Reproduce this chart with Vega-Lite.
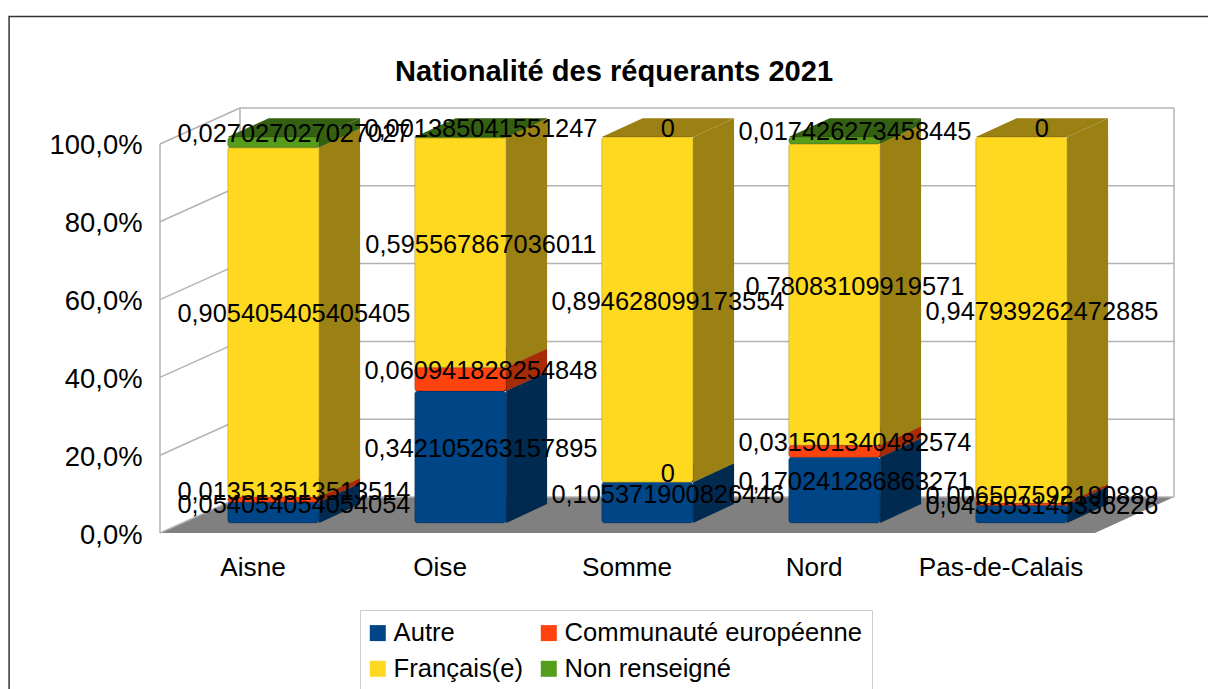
{
"$schema":"https://vega.github.io/schema/vega-lite/v6.json",
"width":1014,"height":425,
"autosize":"none",
"padding":{"left":160,"top":108,"right":34,"bottom":156},
"background":"white",
"config":{"view":{"stroke":null},"font":"Liberation Sans","axis":{"labelFont":"Liberation Sans"},"text":{"font":"Liberation Sans"}},
"title":{"text":"Nationalité des réquerants 2021","font":"Liberation Sans","fontSize":29.1,"fontWeight":"bold","color":"black","anchor":"middle","frame":"group","dx":-53,"offset":-71},
"layer":[
{"data":{"values":[{"frame":"chart"}]},
 "mark":{"type":"rect","fill":null,"stroke":"#333333","strokeWidth":1.5},
 "encoding":{
  "x":{"datum":-0.807,"type":"quantitative","title":null,"scale":{"domain":[0,5.4225],"nice":false,"zero":false},
   "axis":{"values":[0.495,1.495,2.495,3.495,4.495],"labelExpr":"['Aisne','Oise','Somme','Nord','Pas-de-Calais'][floor(datum.value)]","domain":false,"ticks":false,"grid":false,"labelFontSize":26.2,"labelColor":"black","labelPadding":34,"labelBaseline":"middle"}},
  "x2":{"datum":5.64},
  "y":{"datum":1.3278,"type":"quantitative","title":null,"scale":{"domain":[0,1.09254],"nice":false,"zero":false},
   "axis":{"values":[0,0.2,0.4,0.6,0.8,1],"labelExpr":"replace(format(datum.value,'.1%'),'.',',')","domain":false,"ticks":false,"grid":false,"labelFontSize":27.4,"labelColor":"black","labelPadding":18,"labelOffset":2}},
  "y2":{"datum":-0.43}
 }},
{"data":{"values":[{"t":0},{"t":1}]},
 "mark":{"type":"area","orient":"horizontal","color":"#808080"},
 "transform":[{"calculate":"datum.t*0.4225","as":"fx"},{"calculate":"5+datum.t*0.4225","as":"fx2"},{"calculate":"datum.t*0.09254","as":"fy"}],
 "encoding":{"y":{"field":"fy","type":"quantitative","title":null},"x":{"field":"fx","type":"quantitative","title":null},"x2":{"field":"fx2"}}},
{"data":{"values":[{"tick":0},{"tick":0.2},{"tick":0.4},{"tick":0.6},{"tick":0.8},{"tick":1}]},
 "transform":[{"calculate":"datum.tick+0.09254","as":"by"}],
 "layer":[
  {"mark":{"type":"rule","color":"#b3b3b3","strokeWidth":1.5},
   "encoding":{"x":{"datum":0,"type":"quantitative","title":null},"x2":{"datum":0.4278},"y":{"field":"tick","type":"quantitative","title":null},"y2":{"field":"by"}}},
  {"mark":{"type":"rule","color":"#b3b3b3","strokeWidth":1.5},
   "encoding":{"x":{"datum":0.4278,"type":"quantitative","title":null},"x2":{"datum":5.4225},"y":{"field":"by","type":"quantitative","title":null}}}
 ]},
{"data":{"values":[{"wall":"left"}]},
 "mark":{"type":"rule","color":"#b3b3b3","strokeWidth":1.5},
 "encoding":{"x":{"datum":0,"type":"quantitative","title":null},"y":{"datum":0,"type":"quantitative","title":null},"y2":{"datum":1}}},
{"data":{"values":[{"wall":"back"}]},
 "mark":{"type":"rule","color":"#b3b3b3","strokeWidth":1.5},
 "encoding":{"x":{"datum":0.4278,"type":"quantitative","title":null},"y":{"datum":0.09254,"type":"quantitative","title":null},"y2":{"datum":1.09254}}},
{"data":{"values":[{"wall":"right"}]},
 "mark":{"type":"rule","color":"#b3b3b3","strokeWidth":1.5},
 "encoding":{"x":{"datum":5.4225,"type":"quantitative","title":null},"y":{"datum":0.09254,"type":"quantitative","title":null},"y2":{"datum":1.09254}}},
{"data":{"values":[
 {"dept":"Aisne","nat":"Autre","value":0.054054054054054},
 {"dept":"Aisne","nat":"Communauté européenne","value":0.013513513513514},
 {"dept":"Aisne","nat":"Français(e)","value":0.905405405405405},
 {"dept":"Aisne","nat":"Non renseigné","value":0.027027027027027},
 {"dept":"Oise","nat":"Autre","value":0.342105263157895},
 {"dept":"Oise","nat":"Communauté européenne","value":0.060941828254848},
 {"dept":"Oise","nat":"Français(e)","value":0.595567867036011},
 {"dept":"Oise","nat":"Non renseigné","value":0.001385041551247},
 {"dept":"Somme","nat":"Autre","value":0.105371900826446},
 {"dept":"Somme","nat":"Communauté européenne","value":0},
 {"dept":"Somme","nat":"Français(e)","value":0.894628099173554},
 {"dept":"Somme","nat":"Non renseigné","value":0},
 {"dept":"Nord","nat":"Autre","value":0.170241286863271},
 {"dept":"Nord","nat":"Communauté européenne","value":0.031501340482574},
 {"dept":"Nord","nat":"Français(e)","value":0.78083109919571},
 {"dept":"Nord","nat":"Non renseigné","value":0.017426273458445},
 {"dept":"Pas-de-Calais","nat":"Autre","value":0.045553145336226},
 {"dept":"Pas-de-Calais","nat":"Communauté européenne","value":0.006507592190889},
 {"dept":"Pas-de-Calais","nat":"Français(e)","value":0.947939262472885},
 {"dept":"Pas-de-Calais","nat":"Non renseigné","value":0}
 ]},
 "transform":[
  {"calculate":"indexof(['Aisne','Oise','Somme','Nord','Pas-de-Calais'],datum.dept)","as":"i"},
  {"calculate":"indexof(['Autre','Communauté européenne','Français(e)','Non renseigné'],datum.nat)","as":"k"},
  {"stack":"value","groupby":["dept"],"sort":[{"field":"k","order":"ascending"}],"as":["v0","v1"]},
  {"calculate":"datum.i+0.362","as":"xl"},
  {"calculate":"datum.i+0.851","as":"xr"},
  {"calculate":"0.0257+0.992*datum.v0","as":"yb"},
  {"calculate":"0.0257+0.992*datum.v1","as":"yt"},
  {"calculate":"replace(toString(datum.value),'.',',')","as":"label"},
  {"calculate":"(datum.xl+datum.xr+0.219)/2","as":"lx"},
  {"calculate":"(datum.yb+datum.yt+0.0488)/2","as":"ly"}
 ],
 "layer":[
  {"transform":[{"filter":"datum.value>0"},{"calculate":"[0,1]","as":"t"},{"flatten":["t"]},
    {"calculate":"datum.xl+datum.t*0.219","as":"px"},{"calculate":"datum.xr+datum.t*0.219","as":"px2"},{"calculate":"datum.yt+datum.t*0.0488","as":"py"}],
   "mark":{"type":"area","orient":"horizontal"},
   "encoding":{"y":{"field":"py","type":"quantitative","title":null},"x":{"field":"px","type":"quantitative","title":null},"x2":{"field":"px2"},
    "detail":[{"field":"dept"},{"field":"nat"}],
    "color":{"field":"nat","type":"nominal","legend":null,"scale":{"domain":["Autre","Communauté européenne","Français(e)","Non renseigné"],"range":["#002a50","#a82b08","#9b8014","#346011"]}}}},
  {"transform":[{"filter":"datum.value>0"},{"calculate":"[0,1]","as":"t"},{"flatten":["t"]},
    {"calculate":"datum.xr+datum.t*0.219","as":"sx"},{"calculate":"datum.yb+datum.t*0.0488","as":"sy"},{"calculate":"datum.yt+datum.t*0.0488","as":"sy2"}],
   "mark":{"type":"area","orient":"vertical"},
   "encoding":{"x":{"field":"sx","type":"quantitative","title":null},"y":{"field":"sy","type":"quantitative","title":null},"y2":{"field":"sy2"},
    "detail":[{"field":"dept"},{"field":"nat"}],
    "color":{"field":"nat","type":"nominal","legend":null,"scale":{"domain":["Autre","Communauté européenne","Français(e)","Non renseigné"],"range":["#002a50","#a82b08","#9b8014","#346011"]}}}},
  {"transform":[{"filter":"datum.value>0"}],
   "mark":{"type":"rect","cornerRadius":3,"stroke":"#000000","strokeOpacity":0.12,"strokeWidth":1.5},
   "encoding":{"x":{"field":"xl","type":"quantitative","title":null},"x2":{"field":"xr"},"y":{"field":"yb","type":"quantitative","title":null},"y2":{"field":"yt"},
    "color":{"field":"nat","type":"nominal","title":null,"scale":{"domain":["Autre","Communauté européenne","Français(e)","Non renseigné"],"range":["#004586","#ff420e","#ffd820","#579d1c"]},
     "legend":{"orient":"none","legendX":200,"legendY":502,"direction":"horizontal","columns":2,"gridAlign":"each","symbolType":"square","symbolSize":256,"symbolStrokeWidth":0,"symbolOffset":-5,"labelFont":"Liberation Sans","labelFontSize":25.6,"labelColor":"black","labelLimit":400,"labelOffset":3,"columnPadding":16,"rowPadding":9,"fillColor":"white","strokeColor":"#cccccc","padding":10,"title":null}}}},
  {"mark":{"type":"text","font":"Liberation Sans","fontSize":25.4,"color":"black","align":"center","baseline":"middle","dy":1.5},
   "encoding":{"x":{"field":"lx","type":"quantitative","title":null},"y":{"field":"ly","type":"quantitative","title":null},"text":{"field":"label","type":"nominal"}}}
 ],
 "resolve":{"scale":{"color":"independent"}}}
]
}
